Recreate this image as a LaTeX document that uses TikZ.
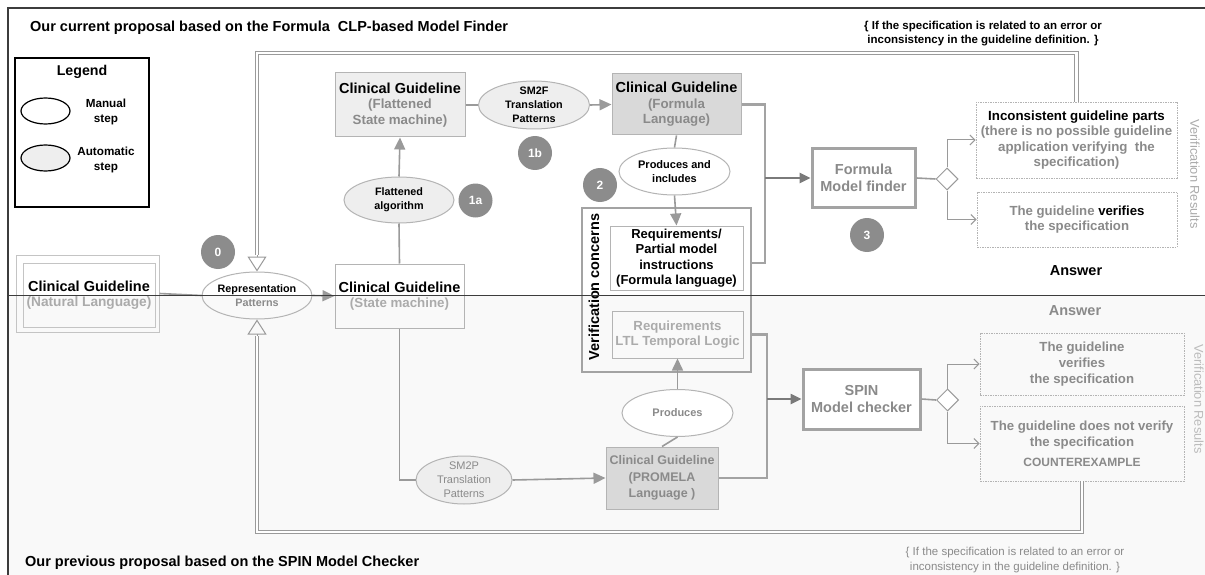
\documentclass[tikz,border=0pt]{standalone}
\usepackage{fontspec}
\setmainfont{Liberation Sans}
\usetikzlibrary{shapes.geometric,arrows.meta,calc}

\definecolor{framec}{HTML}{3C3C3C}
\definecolor{lowbg}{HTML}{F9F9F9}
\definecolor{bordc}{HTML}{B4B4B4}
\definecolor{bordd}{HTML}{A3A3A3}
\definecolor{txtg}{HTML}{8A8A8A}
\definecolor{txtl}{HTML}{ABABAB}
\definecolor{fillA}{HTML}{EEEEEE}
\definecolor{fillB}{HTML}{D9D9D9}
\definecolor{circc}{HTML}{8C8C8C}
\definecolor{arrc}{HTML}{9A9A9A}
\definecolor{arrd}{HTML}{7A7A7A}

\newcommand{\fsz}[2]{\fontsize{#1}{#2}\selectfont}

\tikzset{
  box/.style={rectangle, draw=bordc, line width=1pt, align=center, inner sep=0pt},
  ell/.style={ellipse, draw=bordc, line width=1pt, inner sep=0pt},
  autoell/.style={ell, fill=fillA},
  manell/.style={ell, fill=white},
  etxt/.style={align=center, inner sep=0pt, font=\fsz{10.8}{14}\bfseries},
  numc/.style={circle, fill=circc, minimum size=34pt, inner sep=0pt, text=white, font=\fsz{12}{14}\bfseries},
  conn/.style={draw=arrc, line width=1.6pt},
  tri/.style={-{Triangle[length=12pt,width=11pt]}},
  dbl/.style={draw=arrc, line width=0.9pt, double=white, double distance=2.4pt},
  opentri/.style={-{Triangle[open,length=15pt,width=19pt]}, draw=arrc, line width=1pt},
  res/.style={rectangle, draw=bordc, dash pattern=on 1.5pt off 1pt, line width=0.7pt, align=center, inner sep=0pt},
  brk/.style={draw=bordd, line width=2.4pt},
  brkarrow/.style={draw=arrd, line width=2.4pt, -{Triangle[length=11pt,width=10pt]}},
  barb/.style={-{Straight Barb[length=5pt,width=10pt]}, draw=arrc, line width=1pt},
  dia/.style={diamond, draw=arrc, fill=white, line width=1pt, minimum size=22pt, inner sep=0pt},
  heavy/.style={rectangle, draw=bordd, fill=white, line width=3pt, align=center, inner sep=0pt, text=txtg, font=\fsz{14.5}{17}\bfseries},
}

\begin{document}
\begin{tikzpicture}[x=1pt,y=-1pt]
\useasboundingbox (0,0) rectangle (1205,575);
\fill[white] (0,0) rectangle (1205,575);
\fill[lowbg] (8,295) rectangle (1205,575);
\draw[framec, line width=1.5pt] (1205,8) -- (8,8) -- (8,575);

% headings and notes
\node[anchor=west, inner sep=0pt, font=\fsz{14.5}{16}\bfseries] (title1) at (30,28)
  {Our current proposal based on the Formula~ CLP-based Model Finder};
\node[anchor=west, inner sep=0pt, font=\fsz{14.5}{16}\bfseries] (title2) at (25,563)
  {Our previous proposal based on the SPIN Model Checker};
\node[align=center, inner sep=0pt, font=\fsz{11.5}{14}\bfseries] (note1) at (983,34)
  {\{ If the specification is related to an error or\\inconsistency in the guideline definition. \}};
\node[align=center, inner sep=0pt, text=txtg, font=\fsz{11.5}{15}] (note2) at (1015,560)
  {\{ If the specification is related to an error or\\inconsistency in the guideline definition. \}};

% legend
\node[rectangle, draw=black, line width=2.5pt, minimum width=134pt, minimum height=149pt] (legend) at (82,132.5) {};
\node[font=\fsz{14.2}{16}\bfseries, inner sep=0pt] (legT) at (82,72) {Legend};
\node[ellipse, draw=black, line width=1.2pt, fill=white, minimum width=49pt, minimum height=26pt, inner sep=0pt] (legM) at (45.5,111) {};
\node[ellipse, draw=black, line width=1.2pt, fill=fillA, minimum width=49pt, minimum height=26pt, inner sep=0pt] (legA) at (45.5,158) {};
\node[align=center, inner sep=0pt, font=\fsz{11.7}{15}\bfseries] (legMT) at (106,112) {Manual\\step};
\node[align=center, inner sep=0pt, font=\fsz{11.7}{15}\bfseries] (legAT) at (106,160) {Automatic\\step};

% natural language source
\node[box, draw=txtl!70, minimum width=143pt, minimum height=77pt] (natout) at (87.5,293.5) {};
\node[box, draw=txtl!70, minimum width=132pt, minimum height=64pt, font=\fsz{13.7}{15.5}\bfseries] (nat) at (89,295)
  {{\fsz{14.5}{15.5}Clinical Guideline}\\\textcolor{txtl}{(Natural Language)}};

% representation step
\node[manell, fill=none, minimum width=110pt, minimum height=47pt] (rep) at (257,295.5) {};
\node[etxt] (repT) at (rep) {Representation\\\textcolor{txtg}{Patterns}};

% state machine
\node[box, minimum width=129pt, minimum height=64pt, font=\fsz{13.3}{15.5}\bfseries] (state) at (399.5,296)
  {{\fsz{14.5}{15.5}Clinical Guideline}\\\textcolor{txtl}{(State machine)}};

% flattening
\node[autoell, minimum width=110pt, minimum height=46pt] (flatell) at (399,200) {};
\node[etxt] (flatellT) at (flatell) {Flattened\\algorithm};
\node[box, fill=fillA, minimum width=130pt, minimum height=64pt, font=\fsz{13.3}{15.5}\bfseries] (flat) at (400,105)
  {{\fsz{14.5}{15.5}Clinical Guideline}\\\textcolor{txtg}{(Flattened}\\\textcolor{txtg}{State machine)}};

% SM2F translation
\node[autoell, minimum width=111pt, minimum height=48pt] (sm2f) at (534,105) {};
\node[etxt] (sm2fT) at (sm2f) {SM2F\\Translation\\Patterns};
\node[box, fill=fillB, minimum width=129pt, minimum height=61pt, font=\fsz{13.3}{15.5}\bfseries] (formula) at (676.5,104.5)
  {{\fsz{14.5}{15.5}Clinical Guideline}\\\textcolor{txtg}{(Formula}\\\textcolor{txtg}{Language)}};

% produces and includes
\node[manell, minimum width=111pt, minimum height=47pt] (prodinc) at (674.5,171.5) {};
\node[etxt, font=\fsz{11}{14}\bfseries] (prodincT) at (prodinc) {Produces and\\includes};

% verification concerns
\node[rectangle, draw=bordd, line width=2.4pt, minimum width=169pt, minimum height=164pt] (vc) at (666.5,290) {};
\node[rotate=90, inner sep=0pt, font=\fsz{14.5}{16}\bfseries] (vcT) at (594,287) {Verification concerns};
\node[box, fill=white, minimum width=133pt, minimum height=64pt, font=\fsz{13}{15.5}\bfseries] (reqs) at (676.5,258)
  {Requirements/\\Partial model\\instructions\\(Formula language)};
\node[box, minimum width=131pt, minimum height=47pt, text=txtl, font=\fsz{13.2}{15}\bfseries] (ltl) at (677.5,334.5)
  {Requirements\\LTL Temporal Logic};

% SPIN path
\node[manell, minimum width=111pt, minimum height=47pt] (prod) at (677.5,413) {};
\node[etxt, text=txtg, font=\fsz{11}{14}\bfseries] (prodT) at (prod) {Produces};
\node[box, fill=fillB, minimum width=112pt, minimum height=62pt, text=txtg, font=\fsz{12.5}{16.5}\bfseries] (promela) at (662,478)
  {Clinical Guideline\\(PROMELA\\Language )};
\node[autoell, minimum width=96pt, minimum height=48pt] (sm2p) at (464,480) {};
\node[etxt, text=txtg, font=\fsz{11}{14}] (sm2pT) at (sm2p) {SM2P\\Translation\\Patterns};

% engines
\node[heavy, minimum width=103pt, minimum height=58pt] (finder) at (863.5,178) {Formula\\Model finder};
\node[heavy, minimum width=117pt, minimum height=60pt] (spin) at (861.5,399) {SPIN\\Model checker};
\node[dia] (dia1) at (947,179) {};
\node[dia] (dia2) at (947.5,400) {};

% results
\node[res, minimum width=201pt, minimum height=76pt, font=\fsz{13.3}{15.3}\bfseries] (incons) at (1076.5,140)
  {Inconsistent guideline parts\\\textcolor{txtg}{(there is no possible guideline}\\\textcolor{txtg}{application verifying\ \ the}\\\textcolor{txtg}{specification)}};
\node[res, minimum width=200pt, minimum height=55pt, font=\fsz{13.2}{15.5}\bfseries] (verif) at (1077,219.5)
  {\textcolor{txtg}{The guideline} verifies\\\textcolor{txtg}{the specification}};
\node[res, minimum width=204pt, minimum height=62pt, text=txtg, font=\fsz{13.2}{16}\bfseries] (r1) at (1082,364)
  {The guideline\\verifies\\the specification};
\node[res, minimum width=204pt, minimum height=75pt, text=txtg, font=\fsz{13.2}{16}\bfseries] (r2) at (1082,443.5)
  {The guideline does not verify\\the specification\\[4pt]{\fsz{12}{16}COUNTEREXAMPLE}};

\node[inner sep=0pt, font=\fsz{14.5}{16}\bfseries] (ans1) at (1076,271) {Answer};
\node[inner sep=0pt, text=txtg, font=\fsz{14.5}{16}\bfseries] (ans2) at (1075,311) {Answer};
\node[rotate=-90, inner sep=0pt, text=txtl, font=\fsz{12.8}{15}] (vr1) at (1195,174) {Verification Results};
\node[rotate=-90, inner sep=0pt, text=txtl!80, font=\fsz{12.8}{15}] (vr2) at (1199,399) {Verification Results};

% step numbers
\node[numc] (n0) at (218,252) {0};
\node[numc] (n1a) at (475.5,200.5) {1a};
\node[numc] (n1b) at (535,153) {1b};
\node[numc] (n2) at (600,185) {2};
\node[numc] (n3) at (867,235) {3};

% connectors: upper chain
\draw[conn] (natout.east) -- (rep.west);
\draw[conn, tri] (rep.east) -- (state.west);
\draw[conn] (state.north) -- (flatell.south);
\draw[conn, tri] (flatell.north) -- (flat.south);
\draw[conn] (flat.east) -- (sm2f.west);
\draw[conn, tri] (sm2f.east) -- (formula.west);
\draw[conn] (formula.south) -- (prodinc.north);
\draw[conn, tri] (prodinc.south) -- (reqs.north);

\coordinate (brU) at (765,263);
\draw[brk] (formula.east) -| (brU) -- (vc.east |- brU);
\draw[brkarrow] (brU |- finder.west) -- (finder.west);
\draw[conn] (finder.east) -- (dia1.west);
\draw[barb] (dia1.north) |- (incons.west);
\draw[barb] (dia1.south) |- (verif.west);

% connectors: lower chain
\draw[conn] (state.south) |- (sm2p.west);
\draw[conn, tri] (sm2p.east) -- (promela.west);
\draw[conn] (promela.north) -- (prod.south);
\draw[conn, tri] (prod.north) -- (ltl.south);
\coordinate (brL) at (767,478);
\draw[brk] (vc.east |- ltl.east) -| (brL) -- (promela.east);
\draw[brkarrow] (brL |- spin.west) -- (spin.west);
\draw[conn] (spin.east) -- (dia2.west);
\draw[barb] (dia2.north) |- (r1.west);
\draw[barb] (dia2.south) |- (r2.west);

% feedback loops
\coordinate (topY) at (0,53);
\coordinate (botY) at (0,532);
\coordinate (tA) at (257,255);
\coordinate (tB) at (257,336);
\draw[dbl] (incons.north) -- (incons.north |- topY) -| (tA);
\draw[opentri] (tA) -- (rep.north);
\draw[dbl] (r2.south) -- (r2.south |- botY) -| (tB);
\draw[opentri] (tB) -- (rep.south);

% divider between the two proposals
\draw[framec, line width=1.5pt] (8,295.5) -- (1205,295.5);
\end{tikzpicture}
\end{document}
